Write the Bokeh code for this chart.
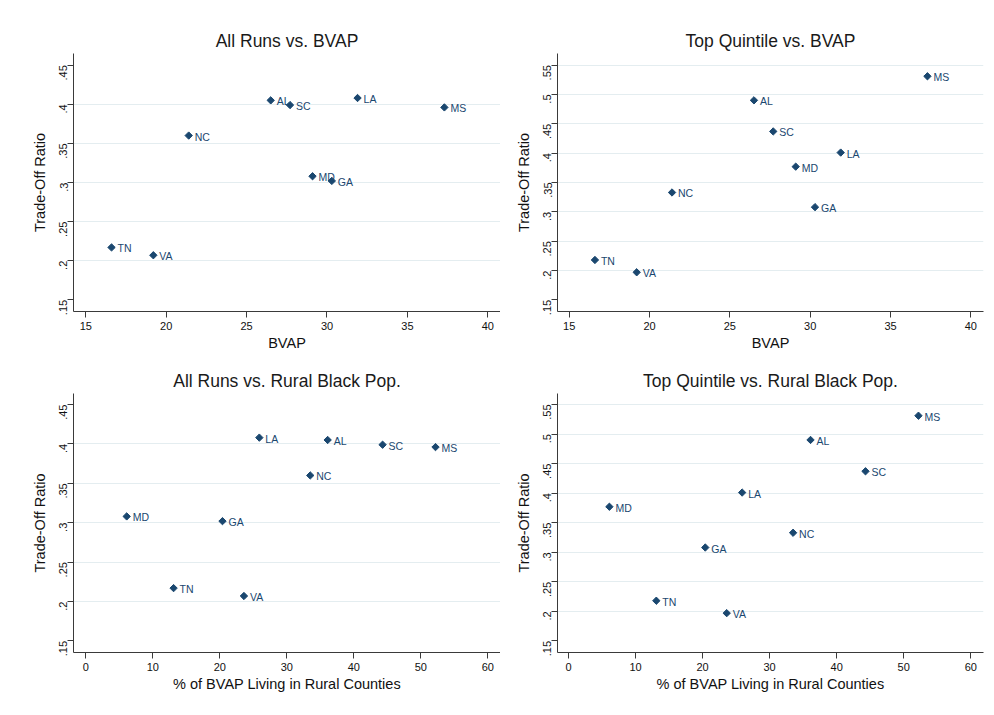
import math
from bokeh.plotting import figure
from bokeh.layouts import column, row
from bokeh.models import ColumnDataSource, FixedTicker, CustomJSTickFormatter, Range1d
from bokeh.core.properties import value
from bokeh.embed import file_html
from bokeh.resources import INLINE

# ---- data ----
states = ["TN", "VA", "NC", "AL", "SC", "MD", "GA", "LA", "MS"]
bvap = [16.6, 19.2, 21.4, 26.5, 27.7, 29.1, 30.3, 31.9, 37.3]
rural_pct = [13.1, 23.6, 33.5, 36.1, 44.3, 6.1, 20.4, 25.9, 52.2]
all_runs = [0.217, 0.207, 0.360, 0.405, 0.399, 0.308, 0.302, 0.408, 0.396]
top_quintile = [0.218, 0.197, 0.333, 0.490, 0.437, 0.377, 0.308, 0.401, 0.531]

bvap_ticks = [15, 20, 25, 30, 35, 40]
rural_ticks = [0, 10, 20, 30, 40, 50, 60]
all_y_ticks = [0.15, 0.2, 0.25, 0.3, 0.35, 0.4, 0.45]
top_y_ticks = [0.15, 0.2, 0.25, 0.3, 0.35, 0.4, 0.45, 0.5, 0.55]
all_grid = [0.2, 0.25, 0.3, 0.35, 0.4]
top_grid = [0.2, 0.25, 0.3, 0.35, 0.4, 0.45, 0.5, 0.55]

FONT = "Liberation Sans"
NAVY = "#1a476f"

yfmt_code = "var s = tick.toFixed(2); if (s.endsWith('0')) { s = s.slice(0, -1); } return s.replace(/^0/, '');"


def make(title, xvals, yvals, xlabel, xr, yr, xticks, yticks, grid, width, height, bl, br, bt, bb):
    p = figure(width=width, height=height, output_backend="svg", toolbar_location=None,
               x_range=Range1d(*xr), y_range=Range1d(*yr),
               min_border_left=bl, min_border_right=br, min_border_top=bt, min_border_bottom=bb)
    p.outline_line_color = None
    p.background_fill_color = "white"
    p.border_fill_color = "white"
    p.title.text = title
    p.title.align = "center"
    p.title.text_font = FONT
    p.title.text_font_size = "17.5px"
    p.title.text_font_style = "normal"
    p.title.text_color = "#1a1a1a"
    p.title.standoff = 6

    p.xaxis.ticker = FixedTicker(ticks=xticks)
    p.yaxis.ticker = FixedTicker(ticks=yticks)
    p.yaxis.formatter = CustomJSTickFormatter(code=yfmt_code)
    p.yaxis.major_label_orientation = math.pi / 2
    for ax in (p.xaxis[0], p.yaxis[0]):
        ax.axis_line_color = "#3a3a3a"
        ax.major_tick_line_color = "#3a3a3a"
        ax.minor_tick_line_color = None
        ax.major_tick_in = 0
        ax.major_tick_out = 6
        ax.major_label_text_font = FONT
        ax.major_label_text_font_size = "11px"
        ax.major_label_text_color = "#111111"
        ax.axis_label_text_font = FONT
        ax.axis_label_text_font_size = "14.5px"
        ax.axis_label_text_font_style = "normal"
        ax.axis_label_text_color = "#111111"
        ax.major_label_standoff = 4
        ax.axis_label_standoff = 2
    p.yaxis.axis_label_standoff = 5
    p.xaxis.axis_label = xlabel
    p.yaxis.axis_label = "Trade-Off Ratio"

    p.xgrid.grid_line_color = None
    p.ygrid.ticker = FixedTicker(ticks=grid)
    p.ygrid.grid_line_color = "#e4edf0"
    p.ygrid.grid_line_width = 1

    src = ColumnDataSource(dict(x=xvals, y=yvals, s=states))
    p.scatter("x", "y", source=src, marker="square", angle=math.pi / 4, size=5.2, color=NAVY)
    p.text("x", "y", text="s", source=src, x_offset=6, y_offset=1,
           text_baseline="middle", text_align="left",
           text_font=value(FONT), text_font_size="10.5px", text_color=NAVY)
    return p


p1 = make("All Runs vs. BVAP", bvap, all_runs, "BVAP", (14.235, 40.79), (0.1351, 0.4649),
          bvap_ticks, all_y_ticks, all_grid, 500, 353, 73, 0, 53, 41)
p2 = make("Top Quintile vs. BVAP", bvap, top_quintile, "BVAP", (14.27, 40.79), (0.1302, 0.5698),
          bvap_ticks, top_y_ticks, top_grid, 486, 353, 57, 3, 53, 41)
p3 = make("All Runs vs. Rural Black Pop.", rural_pct, all_runs, "% of BVAP Living in Rural Counties",
          (-1.84, 61.9), (0.1353, 0.464), rural_ticks, all_y_ticks, all_grid, 500, 355, 73, 0, 40, 56)
p4 = make("Top Quintile vs. Rural Black Pop.", rural_pct, top_quintile, "% of BVAP Living in Rural Counties",
          (-1.64, 61.9), (0.1304, 0.5686), rural_ticks, top_y_ticks, top_grid, 486, 355, 57, 3, 40, 56)

layout = column(row(p1, p2), row(p3, p4))
open("out.html", "w").write(file_html(layout, INLINE))
